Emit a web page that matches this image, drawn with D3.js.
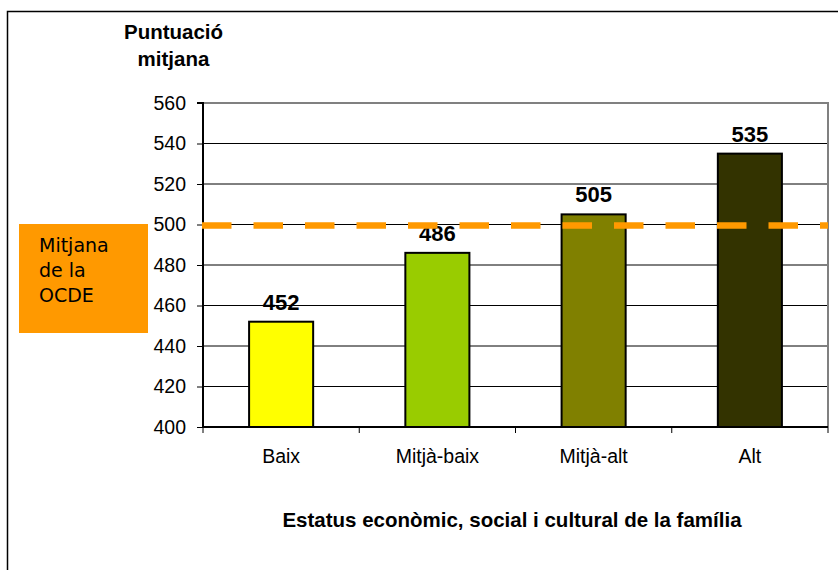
<!DOCTYPE html>
<html>
<head>
<meta charset="utf-8">
<script src="https://cdn.jsdelivr.net/npm/d3@7"></script>
<style>
  html, body { margin: 0; padding: 0; background: #fff; }
  svg { display: block; }
</style>
</head>
<body>
<script>
const categories = ["Baix", "Mitjà-baix", "Mitjà-alt", "Alt"];
const values = [452, 486, 505, 535];
const barColors = ["#FFFF00", "#99CC00", "#808000", "#333300"];
const yTicks = [400, 420, 440, 460, 480, 500, 520, 540, 560];
const oecdMean = 500;
const yTitle = ["Puntuació", "mitjana"];
const xTitle = "Estatus econòmic, social i cultural de la família";
const legendLines = ["Mitjana", "de la", "OCDE"];

const W = 838, H = 570;
const plot = { left: 203, right: 828, top: 103, bottom: 427 };

const svg = d3.select("body").append("svg").attr("width", W).attr("height", H);

// outer frame
svg.append("rect").attr("x", 7.5).attr("y", 11.5).attr("width", 900).attr("height", 700)
  .attr("fill", "none").attr("stroke", "#000").attr("stroke-width", 1.5);

const x = d3.scaleBand().domain(categories).range([plot.left, plot.right])
  .paddingInner(0.59).paddingOuter(0.295);
const y = d3.scaleLinear().domain([400, 560]).range([plot.bottom, plot.top]);

// gridlines
svg.append("g").selectAll("line").data(yTicks.filter(d => d > 400 && d < 560)).join("line")
  .attr("x1", plot.left).attr("x2", plot.right)
  .attr("y1", d => y(d)).attr("y2", d => y(d))
  .attr("stroke", "#000").attr("stroke-width", 1);

// plot border top/right gray
svg.append("path")
  .attr("d", `M${plot.left},${y(560)}H${plot.right}V${plot.bottom}`)
  .attr("fill", "none").attr("stroke", "#808080").attr("stroke-width", 2);

// bars
svg.append("g").selectAll("rect").data(values).join("rect")
  .attr("x", (d, i) => x(categories[i]))
  .attr("y", d => y(d))
  .attr("width", x.bandwidth())
  .attr("height", d => y(400) - y(d))
  .attr("fill", (d, i) => barColors[i])
  .attr("stroke", "#000").attr("stroke-width", 2);

// value labels
svg.append("g").selectAll("text").data(values).join("text")
  .attr("x", (d, i) => x(categories[i]) + x.bandwidth() / 2)
  .attr("y", d => y(d) - 12)
  .attr("text-anchor", "middle")
  .attr("font-family", "Liberation Sans, Arial, sans-serif")
  .attr("font-weight", "bold").attr("font-size", 22)
  .text(d => d);

// y axis
const yAxis = d3.axisLeft(y).tickValues(yTicks).tickSize(6).tickPadding(11);
const gy = svg.append("g").attr("transform", `translate(${plot.left},0)`).call(yAxis);
gy.select(".domain").attr("stroke", "#000").attr("stroke-width", 2).attr("d", `M-6,${y(560)}H0V${y(400)}`);
gy.selectAll(".tick line").attr("stroke", "#000").attr("stroke-width", 1);
gy.selectAll("text").attr("font-family", "Liberation Sans, Arial, sans-serif")
  .attr("font-size", 19.5).attr("fill", "#000");

// x axis
const xAxis = d3.axisBottom(x).tickSize(0).tickPadding(22);
const gx = svg.append("g").attr("transform", `translate(0,${plot.bottom})`).call(xAxis);
gx.select(".domain").attr("stroke", "#000").attr("stroke-width", 2).attr("d", `M${plot.left},0H${plot.right}`);
gx.selectAll("text").attr("font-family", "Liberation Sans, Arial, sans-serif")
  .attr("font-size", 19.5).attr("fill", "#000");
// category separators ticks
const sepPos = categories.map(c => x(c) - x.step() * x.paddingInner() / 2).concat([plot.right]);
svg.append("g").selectAll("line").data(sepPos).join("line")
  .attr("x1", d => d).attr("x2", d => d)
  .attr("y1", plot.bottom).attr("y2", plot.bottom + 6)
  .attr("stroke", "#000").attr("stroke-width", 1);

// OECD dashed line
svg.append("line")
  .attr("x1", plot.left - 1).attr("x2", plot.right)
  .attr("y1", y(oecdMean) + 1).attr("y2", y(oecdMean) + 1)
  .attr("stroke", "#FF9900").attr("stroke-width", 6.5)
  .attr("stroke-dasharray", "29.5,22");

// legend box
svg.append("rect").attr("x", 19).attr("y", 224).attr("width", 129).attr("height", 109)
  .attr("fill", "#FF9900");
svg.append("g").selectAll("text").data(legendLines).join("text")
  .attr("x", 39).attr("y", (d, i) => 252 + i * 25)
  .attr("font-family", "DejaVu Sans, Verdana, sans-serif")
  .attr("font-size", 19).attr("fill", "#000")
  .text(d => d);

// y title
svg.append("g").selectAll("text").data(yTitle).join("text")
  .attr("x", 173.5).attr("y", (d, i) => 39 + i * 27)
  .attr("text-anchor", "middle")
  .attr("font-family", "Liberation Sans, Arial, sans-serif")
  .attr("font-weight", "bold").attr("font-size", 20.5)
  .text(d => d);

// x title
svg.append("text").attr("x", 512).attr("y", 527)
  .attr("text-anchor", "middle")
  .attr("font-family", "Liberation Sans, Arial, sans-serif")
  .attr("font-weight", "bold").attr("font-size", 20.5)
  .text(xTitle);
</script>
</body>
</html>
